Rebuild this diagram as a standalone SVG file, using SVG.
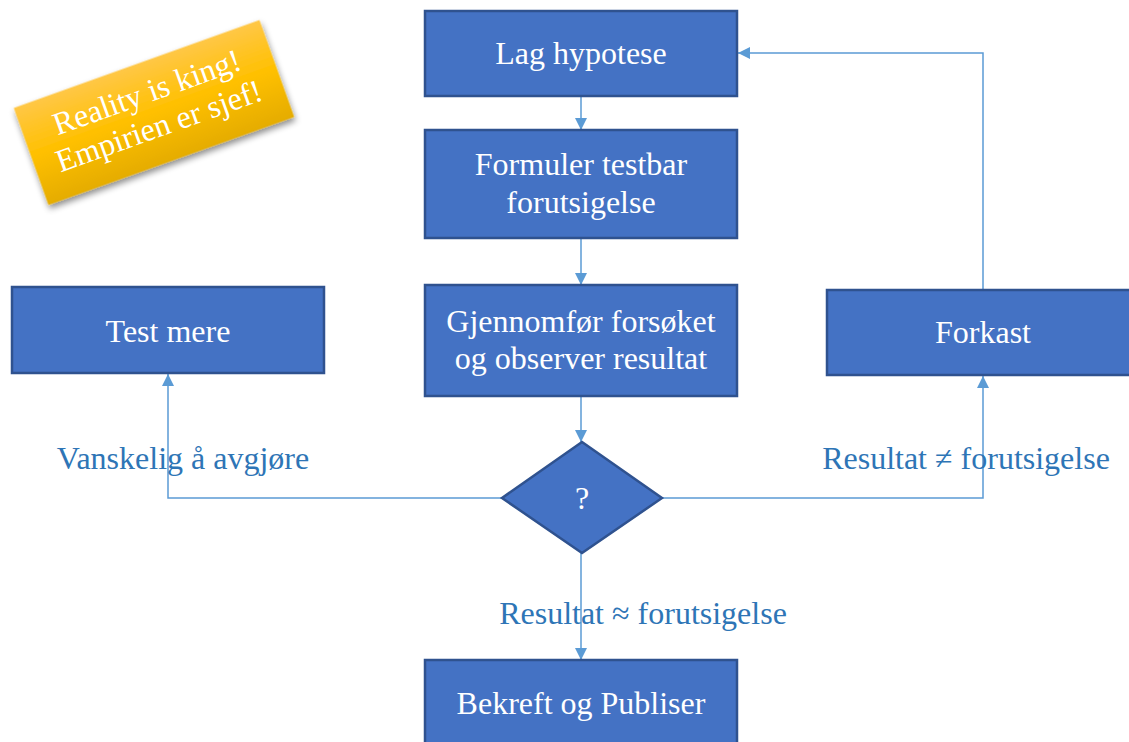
<svg xmlns="http://www.w3.org/2000/svg" width="1129" height="742" viewBox="0 0 1129 742">
<style>
.box{fill:#4472C4;stroke:#2F528F;stroke-width:2.5}
.bt{font-family:"Liberation Serif",serif;font-size:32px;fill:#FFFFFF;text-anchor:middle}
.lbl{font-family:"Liberation Serif",serif;font-size:32px;fill:#2E75B6;text-anchor:middle}
.con{fill:none;stroke:#5B9BD5;stroke-width:1.5}
</style>
<defs>
<marker id="ah" viewBox="0 0 12 12" refX="12" refY="6" markerWidth="12" markerHeight="12" markerUnits="userSpaceOnUse" orient="auto">
<path d="M0,0 L12,6 L0,12 Z" fill="#5B9BD5"/>
</marker>
<linearGradient id="yg" x1="0" y1="0" x2="0" y2="1">
<stop offset="0" stop-color="#FFC746"/>
<stop offset="0.5" stop-color="#FFC000"/>
<stop offset="1" stop-color="#E5AC00"/>
</linearGradient>
<filter id="sh" x="-20%" y="-20%" width="140%" height="150%">
<feDropShadow dx="0" dy="4" stdDeviation="3" flood-color="#000" flood-opacity="0.45"/>
</filter>
</defs>
<g id="sticky" transform="translate(154,112.5) rotate(-19.7)">
<rect x="-130.5" y="-51.5" width="261" height="103" fill="url(#yg)" filter="url(#sh)"/>
<text class="bt" x="0" y="-11">Reality is king!</text>
<text class="bt" x="0" y="25">Empirien er sjef!</text>
</g>
<g id="connectors">
<line class="con" x1="581" y1="96" x2="581" y2="130" marker-end="url(#ah)"/>
<line class="con" x1="581" y1="238" x2="581" y2="285" marker-end="url(#ah)"/>
<line class="con" x1="581" y1="396" x2="581" y2="442" marker-end="url(#ah)"/>
<line class="con" x1="581" y1="553" x2="581" y2="660" marker-end="url(#ah)"/>
<polyline class="con" points="502,498 168,498 168,374" marker-end="url(#ah)"/>
<polyline class="con" points="662,498 983,498 983,376" marker-end="url(#ah)"/>
<polyline class="con" points="983,290 983,53 738,53" marker-end="url(#ah)"/>
<text class="lbl" x="183" y="469">Vanskelig å avgjøre</text>
<text class="lbl" x="966" y="469">Resultat ≠ forutsigelse</text>
<text class="lbl" x="643" y="624">Resultat ≈ forutsigelse</text>
</g>
<g id="n-hypotese">
<rect class="box" x="425" y="11" width="312" height="85"/>
<text class="bt" x="581" y="64">Lag hypotese</text>
</g>
<g id="n-formuler">
<rect class="box" x="425" y="130" width="312" height="108"/>
<text class="bt" x="581" y="175">Formuler testbar</text>
<text class="bt" x="581" y="213">forutsigelse</text>
</g>
<g id="n-gjennomfor">
<rect class="box" x="425" y="285" width="312" height="111"/>
<text class="bt" x="581" y="332">Gjennomfør forsøket</text>
<text class="bt" x="581" y="369">og observer resultat</text>
</g>
<g id="n-beslutning">
<polygon class="box" points="582,442 662,498 582,553 502,498"/>
<text class="bt" x="582" y="509">?</text>
</g>
<g id="n-testmere">
<rect class="box" x="12" y="287" width="312" height="86"/>
<text class="bt" x="168" y="342">Test mere</text>
</g>
<g id="n-forkast">
<rect class="box" x="827" y="290" width="312" height="85"/>
<text class="bt" x="983" y="343">Forkast</text>
</g>
<g id="n-bekreft">
<rect class="box" x="425" y="660" width="312" height="95"/>
<text class="bt" x="581" y="714">Bekreft og Publiser</text>
</g>
</svg>
